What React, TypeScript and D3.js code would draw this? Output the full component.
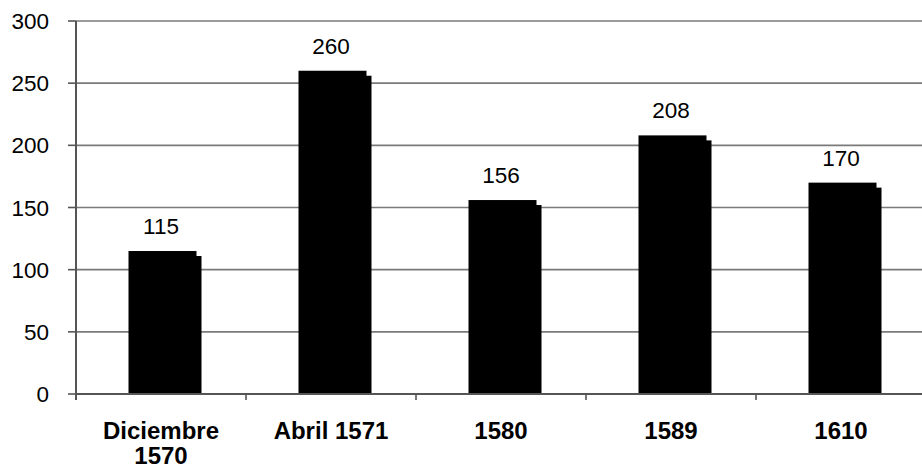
import React from "react";
import * as d3 from "d3";

const categories: string[][] = [["Diciembre", "1570"], ["Abril 1571"], ["1580"], ["1589"], ["1610"]];
const values: number[] = [115, 260, 156, 208, 170];
const yTicks: number[] = [0, 50, 100, 150, 200, 250, 300];

const W = 922;
const H = 470;
const left = 76;
const right = 926;
const top = 21;
const bottom = 394;

export default function App() {
  const x = d3
    .scaleBand<number>()
    .domain(values.map((_, i) => i))
    .range([left, right])
    .paddingInner(0.6)
    .paddingOuter(0.3);
  const y = d3.scaleLinear().domain([0, 300]).range([bottom, top]);
  const step = x.step();
  const bw = x.bandwidth();
  const font = "'Liberation Sans', Arial, sans-serif";
  const shift = 5;
  const gridColor = "#7a7a7a";
  const axisColor = "#555";

  return (
    <svg width={W} height={H} style={{ position: "absolute", left: 0, top: 0, background: "#fff" }}>
      <rect x={0} y={0} width={W} height={H} fill="#fff" />
      {yTicks.map((t) => (
        <g key={t}>
          {t > 0 && <line x1={left} x2={right} y1={y(t)} y2={y(t)} stroke={gridColor} strokeWidth={1.6} />}
          <line x1={left - 8} x2={left} y1={y(t)} y2={y(t)} stroke={axisColor} strokeWidth={1.6} />
          <text x={49} y={y(t)} dy="0.36em" textAnchor="end" fontFamily={font} fontSize={22.5} fill="#000">
            {t}
          </text>
        </g>
      ))}
      {values.map((v, i) => {
        const x0 = (x(i) as number) + 1.5;
        return (
          <g key={i}>
            <rect x={x0 + shift} y={y(v) + shift} width={bw} height={bottom - y(v) - shift} fill="#000" />
            <rect x={x0} y={y(v)} width={bw} height={bottom - y(v)} fill="#000" />
            <text
              x={(x(i) as number) + bw / 2}
              y={y(v) - 17}
              textAnchor="middle"
              fontFamily={font}
              fontSize={22.5}
              fill="#000"
            >
              {v}
            </text>
          </g>
        );
      })}
      <line x1={left} x2={left} y1={top} y2={bottom + 6} stroke={axisColor} strokeWidth={2} />
      <line x1={left} x2={right} y1={bottom} y2={bottom} stroke={axisColor} strokeWidth={2} />
      {values.map((_, i) => (
        <line
          key={i}
          x1={left + step * (i + 1)}
          x2={left + step * (i + 1)}
          y1={bottom}
          y2={bottom + 6}
          stroke={axisColor}
          strokeWidth={1.6}
        />
      ))}
      {categories.map((lines, i) => (
        <text
          key={i}
          x={(x(i) as number) + bw / 2}
          y={439}
          textAnchor="middle"
          fontFamily={font}
          fontSize={24}
          fontWeight="bold"
          fill="#000"
        >
          {lines.map((l, j) => (
            <tspan key={j} x={(x(i) as number) + bw / 2} dy={j === 0 ? 0 : 25}>
              {l}
            </tspan>
          ))}
        </text>
      ))}
    </svg>
  );
}
